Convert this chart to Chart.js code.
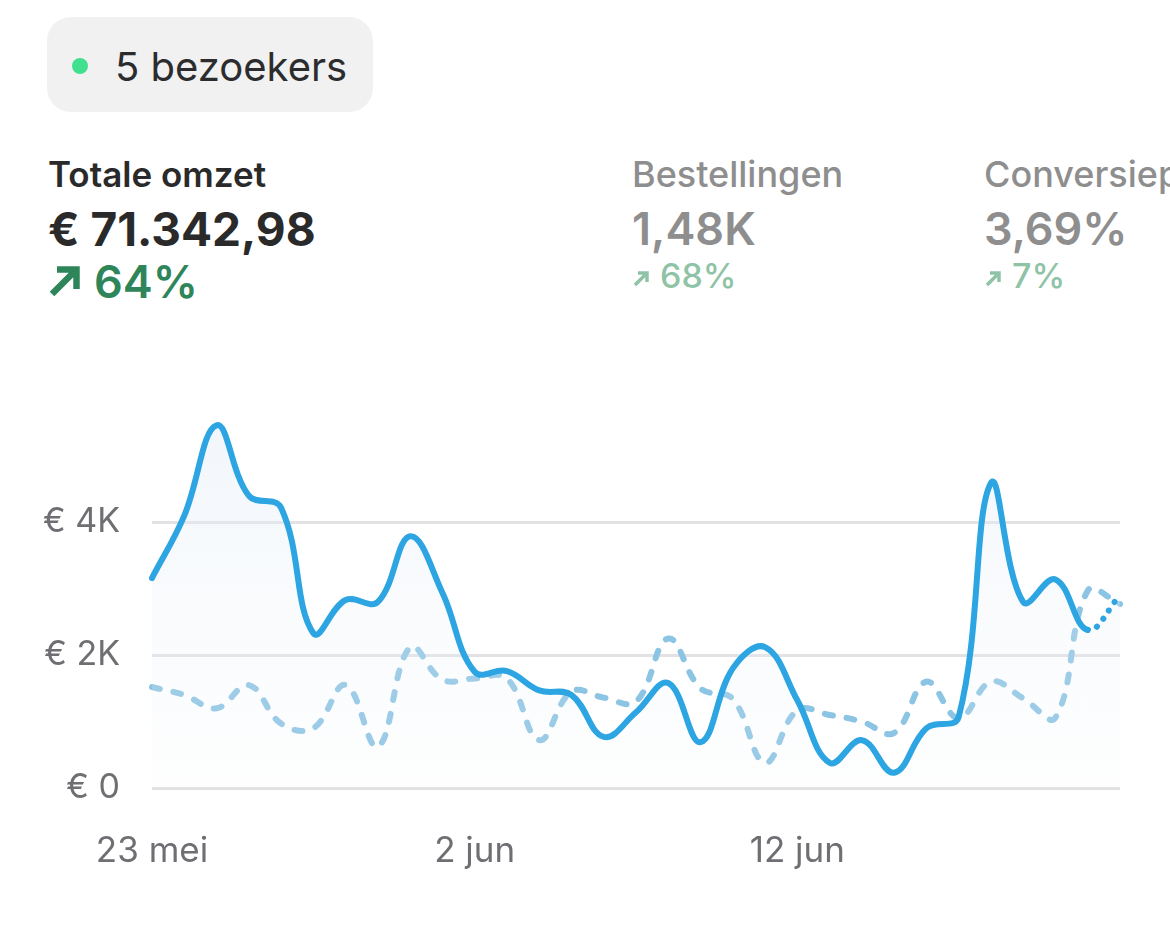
<!DOCTYPE html>
<html>
<head>
<meta charset="utf-8">
<script src="https://cdn.jsdelivr.net/npm/chart.js@4"></script>
<style>
  html, body { margin: 0; padding: 0; background: #fff; }
  body { width: 1170px; height: 940px; position: relative; overflow: hidden; font-family: Inter, "Noto Sans", sans-serif; }
  .badge { position: absolute; left: 47px; top: 17px; width: 326px; height: 95px; border-radius: 24px; background: #f1f1f1; }
  .dot { position: absolute; left: 72px; top: 58px; width: 16px; height: 16px; border-radius: 50%; background: #41e08f; }
  .badge-text { position: absolute; left: 115px; top: 47px; font-size: 40px; line-height: 40px; color: #2c2c2e; white-space: nowrap; }
  .stat { position: absolute; white-space: nowrap; line-height: 1; }
  .label { font-size: 35px; font-weight: 600; }
  .value { font-size: 45px; font-weight: 700; }
  .change { font-size: 45px; font-weight: 600; }
  .change.small { font-size: 34px; font-weight: 500; }
  .arrow { display: inline-block; vertical-align: baseline; }
  #chartBox { position: absolute; left: 0; top: 337px; width: 1170px; height: 563px; }
</style>
</head>
<body>
<div class="badge"></div>
<div class="dot"></div>
<div class="badge-text">5 bezoekers</div>

<div class="stat label" style="left:48px; top:157px; color:#2a2a2a;">Totale omzet</div>
<div class="stat value" style="left:48px; top:206px; color:#2a2a2a; font-size:46px;">€ 71.342,98</div>
<div class="stat change" style="left:48px; top:259px; color:#2f855a;"><svg class="arrow" width="34" height="34" viewBox="0 0 34 34" style="margin-right:12px"><path d="M4 30 L27 7 M9 5.5 H28.5 V25" stroke="#2f855a" stroke-width="6.5" fill="none"/></svg>64%</div>

<div class="stat label" style="left:632px; top:156px; color:#8e8e8e; font-weight:500; font-size:36px;">Bestellingen</div>
<div class="stat value" style="left:632px; top:206px; color:#8e8e8e; font-weight:600;">1,48K</div>
<div class="stat change small" style="left:632px; top:259px; color:#8fc3a6;"><svg class="arrow" width="18" height="18" viewBox="0 0 18 18" style="margin-right:10px"><path d="M3 15 L14 4 M6 3 H15 V12" stroke="#8fc3a6" stroke-width="3.5" fill="none"/></svg>68%</div>

<div class="stat label" style="left:984px; top:156px; color:#8e8e8e; font-weight:500; font-size:36px;">Conversiepercentage</div>
<div class="stat value" style="left:984px; top:206px; color:#8e8e8e; font-weight:600;">3,69%</div>
<div class="stat change small" style="left:984px; top:259px; color:#8fc3a6;"><svg class="arrow" width="18" height="18" viewBox="0 0 18 18" style="margin-right:10px"><path d="M3 15 L14 4 M6 3 H15 V12" stroke="#8fc3a6" stroke-width="3.5" fill="none"/></svg>7%</div>

<div id="chartBox"><canvas id="omzetChart"></canvas></div>

<script>
// dagen 23 mei t/m 22 jun
const dagen = [
  "23 mei", "24 mei", "25 mei", "26 mei", "27 mei", "28 mei", "29 mei", "30 mei", "31 mei", "1 jun",
  "2 jun", "3 jun", "4 jun", "5 jun", "6 jun", "7 jun", "8 jun", "9 jun", "10 jun", "11 jun",
  "12 jun", "13 jun", "14 jun", "15 jun", "16 jun", "17 jun", "18 jun", "19 jun", "20 jun", "21 jun",
  "22 jun"
];
const asLabels = ["23 mei", "2 jun", "12 jun"];

// omzet huidige periode (euro)
const omzetNu = [
  3160, 4100, 5460, 4400, 4220, 2330, 2830, 2800, 3790, 2940,
  1750, 1760, 1470, 1400, 770, 1140, 1580, 690, 1800, 2120,
  1320, 380, 720, 230, 900, 1070, 4590, 2800, 3140, 2380,
  2900
];
// omzet vorige periode (euro)
const omzetVorig = [
  1520, 1400, 1200, 1550, 970, 900, 1550, 620, 2120, 1630,
  1650, 1650, 720, 1450, 1360, 1300, 2250, 1500, 1340, 380,
  1170, 1100, 1000, 830, 1600, 1050, 1600, 1350, 1060, 2970,
  2770
];
const yTicks = [0, 2000, 4000];

const ctx = document.getElementById("omzetChart").getContext("2d");
const laatste = omzetNu.length - 1;

// zachte vulling onder de omzetlijn
function vulling(c) {
  const area = c.chart.chartArea;
  if (!area) return "rgba(0,0,0,0)";
  const g = c.chart.ctx.createLinearGradient(0, area.top, 0, area.bottom);
  g.addColorStop(0, "rgba(222,233,245,0.45)");
  g.addColorStop(1, "rgba(240,244,248,0.1)");
  return g;
}

new Chart(ctx, {
  type: "line",
  data: {
    labels: dagen,
    datasets: [
      {
        label: "Totale omzet",
        data: omzetNu,
        borderColor: "#2ca5e2",
        borderWidth: 6,
        borderCapStyle: "round",
        tension: 0.4,
        pointRadius: 0,
        fill: "origin",
        backgroundColor: vulling,
        segment: {
          borderDash: c => c.p1DataIndex === laatste ? [0.1, 10] : undefined
        }
      },
      {
        label: "Vorige periode",
        data: omzetVorig,
        borderColor: "#8cc4e4",
        borderWidth: 6,
        borderDash: [8, 14],
        borderCapStyle: "round",
        tension: 0.4,
        pointRadius: 0,
        fill: false
      }
    ]
  },
  options: {
    responsive: true,
    maintainAspectRatio: false,
    animation: false,
    layout: { padding: { top: 19, right: 50, left: 0, bottom: 0 } },
    plugins: { legend: { display: false }, tooltip: { enabled: false } },
    scales: {
      x: {
        grid: { display: false },
        border: { display: false },
        afterFit: s => { s.height = 112; },
        ticks: {
          autoSkip: false,
          maxRotation: 0,
          padding: 34,
          color: "#6e6e73",
          font: { family: "Inter", size: 35 },
          callback: function (v, i) {
            const l = dagen[i];
            return asLabels.includes(l) ? l : "";
          }
        }
      },
      y: {
        min: 0,
        max: 6000,
        afterFit: s => { s.width = 152; },
        afterBuildTicks: s => { s.ticks = [...yTicks, 6000].map(v => ({ value: v })); },
        border: { display: false },
        grid: {
          drawTicks: false,
          lineWidth: 3,
          color: c => c.tick && c.tick.value === 6000 ? "rgba(0,0,0,0)" : "#e2e2e4"
        },
        ticks: {
          padding: 32,
          color: "#6e6e73",
          font: { family: "Inter", size: 34 },
          callback: v => v === 6000 ? "" : (v === 0 ? "€ 0" : "€ " + (v / 1000) + "K")
        }
      }
    }
  }
});
</script>
</body>
</html>
